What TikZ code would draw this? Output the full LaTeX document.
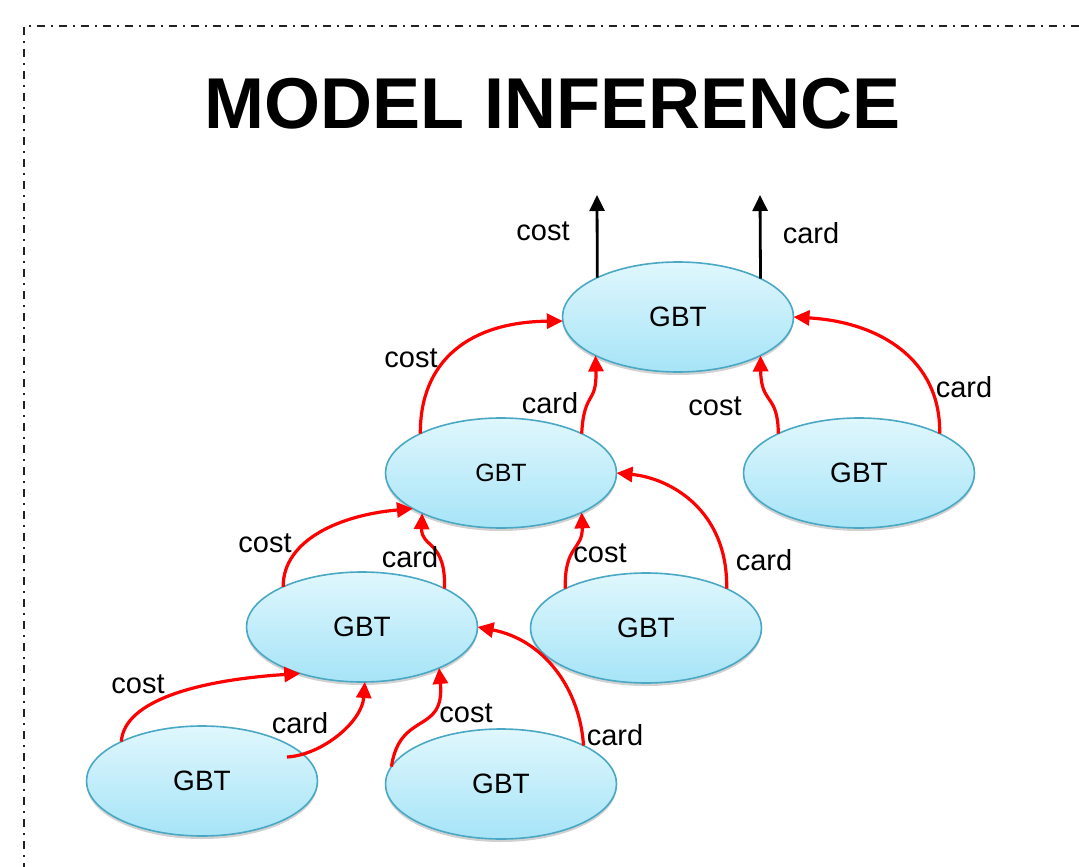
\documentclass[tikz,border=0pt]{standalone}
\usepackage{fontspec}
\setmainfont{Liberation Sans}
\usetikzlibrary{arrows.meta,shapes.geometric,shadows}
\definecolor{gbttop}{HTML}{E0F7FD}
\definecolor{gbtbot}{HTML}{A6E4F7}
\definecolor{gbtedge}{HTML}{4AA8C4}
\definecolor{framegray}{HTML}{222222}
\begin{document}
\begin{tikzpicture}[x=1pt,y=-1pt,
  gbt/.style={ellipse, draw=gbtedge, line width=1.6pt,
    top color=gbttop, bottom color=gbtbot,
    minimum width=231pt, minimum height=110pt, inner sep=0pt, outer sep=0pt,
    font=\fontsize{28}{30}\selectfont,
    drop shadow={shadow xshift=0pt, shadow yshift=-3pt, opacity=0.18, fill=black}},
  lbl/.style={font=\fontsize{29}{31}\selectfont, anchor=base, inner sep=0pt},
  feed/.style={draw=red, line width=3.2pt, -{Triangle[length=16pt,width=15pt]}},
  result/.style={draw=black, line width=2.8pt, -{Triangle[length=16pt,width=15pt]}},
  frame/.style={draw=framegray, line width=1.8pt,
    dash pattern=on 8pt off 6pt on 2pt off 6pt},
]
\useasboundingbox (0,0) rectangle (1079,867);

% dash-dot frame
\draw[frame] (1079,26) -- (24,26) -- (24,867);

% title
\node[font=\fontsize{72}{76}\selectfont\bfseries, anchor=base, inner sep=0pt]
  (title) at (553,128) {MODEL INFERENCE};

% GBT nodes
\node[gbt] (top) at (678,317) {GBT};
\node[gbt, font=\fontsize{25}{27}\selectfont] (ml) at (501,473) {GBT};
\node[gbt] (rt) at (859,473) {GBT};
\node[gbt] (ll) at (362,627) {GBT};
\node[gbt] (lm) at (646,628) {GBT};
\node[gbt] (bl) at (202,781) {GBT};
\node[gbt] (bm) at (501,784) {GBT};

% outputs of the top model
\coordinate (outcost) at (597,195);
\coordinate (outcard) at (760,195);
\draw[result] (top.154) -- (outcost);
\draw[result] (top.25.4) -- (outcard);
\node[lbl] (lc0) at (543,240) {cost};
\node[lbl] (ld0) at (811,243) {card};

% ml -> top
\draw[feed] (ml.154) .. controls (420,360) and (470,322) .. (top.182);
\draw[feed] (ml.26) .. controls (584,390) and (597,405) .. (top.205);
\node[lbl] (lc1) at (411,367) {cost};
\node[lbl] (ld1) at (550,413) {card};

% rt -> top
\draw[feed] (rt.154) .. controls (778,393) and (761,405) .. (top.335);
\draw[feed] (rt.26) .. controls (941,360) and (880,322) .. (top.east);
\node[lbl] (lc2) at (715,415) {cost};
\node[lbl] (ld2) at (964,397) {card};

% ll -> ml
\draw[feed] (ll.153) .. controls (283,540) and (340,515) .. (ml.202);
\draw[feed] (ll.25) .. controls (446,540) and (421,548) .. (ml.207);
\node[lbl] (lc3) at (265,552) {cost};
\node[lbl] (ld3) at (410,567) {card};

% lm -> ml
\draw[feed] (lm.154) .. controls (564,545) and (583,550) .. (ml.334);
\draw[feed] (lm.26) .. controls (728,510) and (670,478) .. (ml.east);
\node[lbl] (lc4) at (600,562) {cost};
\node[lbl] (ld4) at (764,570) {card};

% bl -> ll
\draw[feed] (bl.154) .. controls (124,700) and (200,680) .. (ll.217);
\draw[feed] ([shift={(85,-24)}]bl.center) .. controls (322,755) and (362,722) .. (ll.273);
\node[lbl] (lc5) at (138,693) {cost};
\node[lbl] (ld5) at (300,733) {card};

% bm -> ll
\draw[feed] (bm.171) .. controls (400,710) and (445,735) .. (ll.332);
\draw[feed] (bm.25) .. controls (580,690) and (545,640) .. (ll.east);
\node[lbl] (lc6) at (466,722) {cost};
\node[lbl] (ld6) at (615,745) {card};
\end{tikzpicture}
\end{document}
